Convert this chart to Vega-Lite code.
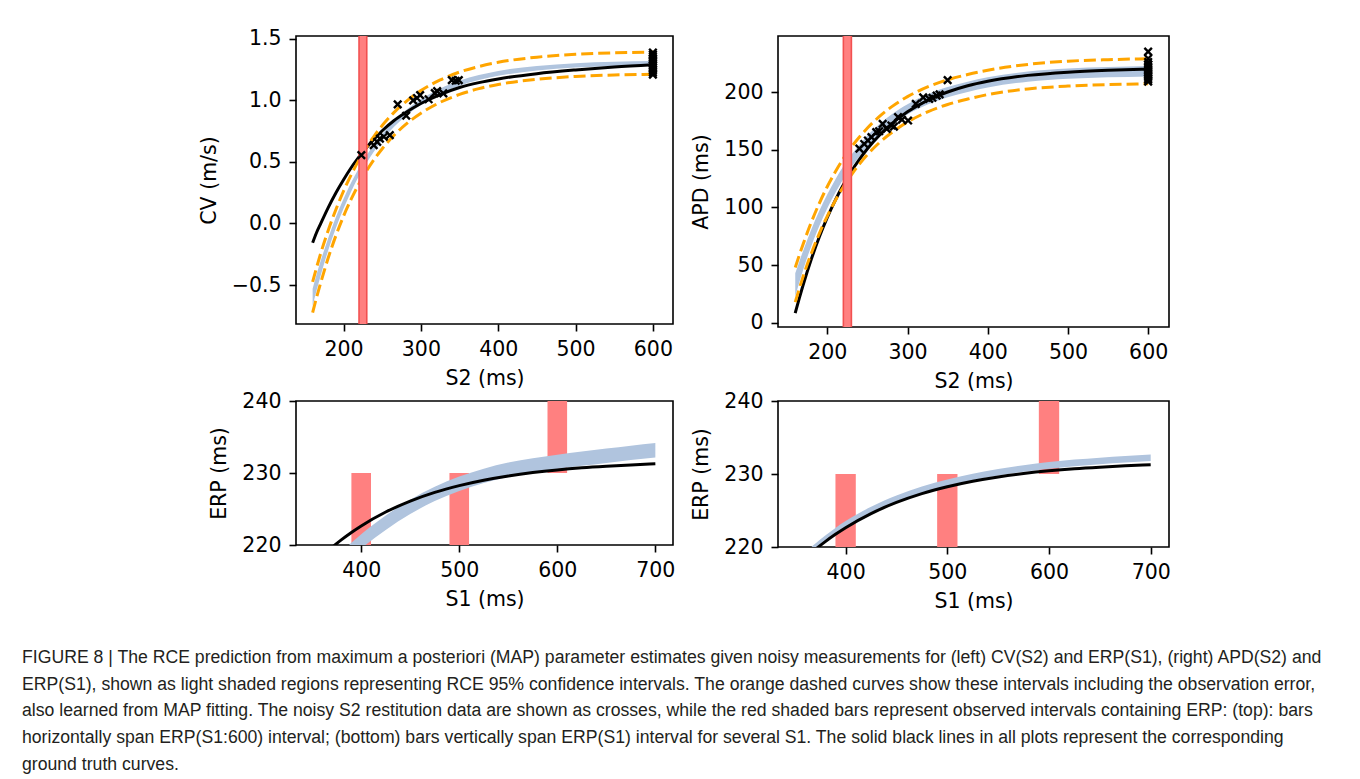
{
  "$schema": "https://vega.github.io/schema/vega-lite/v6.json",
  "padding": {"left": 22, "top": 28, "right": 0, "bottom": 0},
  "autosize": {"type": "pad"},
  "datasets": {
    "cv": [
      {"s":160,"t":-0.157,"lo":-0.67,"hi":-0.53,"olo":-0.725,"ohi":-0.475},
      {"s":165,"t":-0.075,"lo":-0.547,"hi":-0.417,"olo":-0.604,"ohi":-0.36},
      {"s":170,"t":-0.007,"lo":-0.432,"hi":-0.312,"olo":-0.492,"ohi":-0.252},
      {"s":180,"t":0.127,"lo":-0.221,"hi":-0.121,"olo":-0.283,"ohi":-0.059},
      {"s":190,"t":0.248,"lo":-0.039,"hi":0.051,"olo":-0.1,"ohi":0.112},
      {"s":200,"t":0.356,"lo":0.122,"hi":0.202,"olo":0.06,"ohi":0.264},
      {"s":210,"t":0.455,"lo":0.263,"hi":0.335,"olo":0.2,"ohi":0.398},
      {"s":220,"t":0.541,"lo":0.388,"hi":0.452,"olo":0.323,"ohi":0.517},
      {"s":230,"t":0.62,"lo":0.496,"hi":0.556,"olo":0.43,"ohi":0.622},
      {"s":240,"t":0.69,"lo":0.592,"hi":0.648,"olo":0.525,"ohi":0.715},
      {"s":250,"t":0.754,"lo":0.676,"hi":0.728,"olo":0.608,"ohi":0.796},
      {"s":265,"t":0.835,"lo":0.784,"hi":0.832,"olo":0.715,"ohi":0.901},
      {"s":280,"t":0.9,"lo":0.872,"hi":0.918,"olo":0.803,"ohi":0.987},
      {"s":300,"t":0.975,"lo":0.966,"hi":1.01,"olo":0.896,"ohi":1.08},
      {"s":325,"t":1.048,"lo":1.055,"hi":1.097,"olo":0.985,"ohi":1.167},
      {"s":350,"t":1.105,"lo":1.12,"hi":1.16,"olo":1.049,"ohi":1.231},
      {"s":375,"t":1.145,"lo":1.166,"hi":1.206,"olo":1.096,"ohi":1.276},
      {"s":400,"t":1.175,"lo":1.2,"hi":1.24,"olo":1.13,"ohi":1.31},
      {"s":450,"t":1.218,"lo":1.243,"hi":1.281,"olo":1.172,"ohi":1.352},
      {"s":500,"t":1.248,"lo":1.267,"hi":1.303,"olo":1.195,"ohi":1.375},
      {"s":550,"t":1.272,"lo":1.279,"hi":1.315,"olo":1.207,"ohi":1.387},
      {"s":600,"t":1.29,"lo":1.285,"hi":1.321,"olo":1.213,"ohi":1.393}
    ],
    "cvpts": [
      {"s":223,"v":0.555},{"s":239,"v":0.637},{"s":243.5,"v":0.664},{"s":247,"v":0.69},
      {"s":252,"v":0.705},{"s":259.8,"v":0.718},{"s":270,"v":0.968},{"s":281,"v":0.876},
      {"s":290,"v":1.0},{"s":295,"v":1.02},{"s":299,"v":1.043},{"s":310,"v":1.01},
      {"s":318,"v":1.06},{"s":321,"v":1.076},{"s":329,"v":1.057},{"s":340,"v":1.165},
      {"s":345,"v":1.16},{"s":349,"v":1.165},
      {"s":600,"v":1.39},{"s":600,"v":1.375},{"s":600,"v":1.36},{"s":600,"v":1.345},
      {"s":600,"v":1.33},{"s":600,"v":1.315},{"s":600,"v":1.3},{"s":600,"v":1.285},
      {"s":600,"v":1.27},{"s":600,"v":1.255},{"s":600,"v":1.24},{"s":600,"v":1.225},
      {"s":600,"v":1.21}
    ],
    "cvbar": [{"s":220,"s2":230,"v":-2,"v2":3}],
    "apd": [
      {"s":160,"t":8.6,"lo":23,"hi":43,"olo":18,"ohi":48},
      {"s":165,"t":21.3,"lo":35.1,"hi":53.1,"olo":29.6,"ohi":58.6},
      {"s":170,"t":33.3,"lo":46.4,"hi":62.8,"olo":40.6,"ohi":68.6},
      {"s":180,"t":55.1,"lo":66.5,"hi":80.9,"olo":60.2,"ohi":87.2},
      {"s":190,"t":74.4,"lo":83.9,"hi":97.1,"olo":77.4,"ohi":103.6},
      {"s":200,"t":91.4,"lo":99.3,"hi":111.5,"olo":92.6,"ohi":118.2},
      {"s":210,"t":106.4,"lo":112.7,"hi":124.3,"olo":106.1,"ohi":130.9},
      {"s":220,"t":119.7,"lo":124.6,"hi":135.6,"olo":117.9,"ohi":142.3},
      {"s":230,"t":131.4,"lo":135,"hi":145.6,"olo":128.3,"ohi":152.3},
      {"s":240,"t":141.7,"lo":144.2,"hi":154.4,"olo":137.6,"ohi":161},
      {"s":250,"t":150.9,"lo":152.3,"hi":162.3,"olo":145.8,"ohi":168.8},
      {"s":265,"t":162.6,"lo":162.7,"hi":172.3,"olo":156.2,"ohi":178.8},
      {"s":280,"t":172.4,"lo":171.2,"hi":180.6,"olo":164.7,"ohi":187.1},
      {"s":300,"t":182.9,"lo":180.5,"hi":189.5,"olo":174,"ohi":196},
      {"s":325,"t":192.8,"lo":189.1,"hi":198.1,"olo":182.8,"ohi":204.4},
      {"s":350,"t":200,"lo":195.5,"hi":204.3,"olo":189.2,"ohi":210.6},
      {"s":375,"t":205.4,"lo":200.1,"hi":208.9,"olo":193.9,"ohi":215.1},
      {"s":400,"t":209.3,"lo":203.9,"hi":212.7,"olo":197.8,"ohi":218.8},
      {"s":450,"t":214.4,"lo":208.9,"hi":217.7,"olo":202.7,"ohi":223.9},
      {"s":500,"t":217.2,"lo":211.4,"hi":220.4,"olo":205.1,"ohi":226.7},
      {"s":550,"t":218.8,"lo":212.7,"hi":221.7,"olo":206.4,"ohi":228},
      {"s":600,"t":219.8,"lo":213.5,"hi":222.5,"olo":207.2,"ohi":228.8}
    ],
    "apdpts": [
      {"s":240,"v":150.9},{"s":246,"v":155},{"s":250.6,"v":158},{"s":255,"v":161},
      {"s":261,"v":165.2},{"s":264.6,"v":166},{"s":269,"v":172.4},{"s":274,"v":168},
      {"s":279.9,"v":171},{"s":283,"v":170},{"s":288.2,"v":178.2},{"s":293,"v":176},
      {"s":300.7,"v":175.3},{"s":310.3,"v":189.7},{"s":319.5,"v":195.4},{"s":327,"v":194},
      {"s":331,"v":195},{"s":336.3,"v":196.8},{"s":340,"v":198},{"s":350,"v":210.3},
      {"s":600,"v":235},{"s":600,"v":229},{"s":600,"v":226},{"s":600,"v":224},
      {"s":600,"v":222.5},{"s":600,"v":221},{"s":600,"v":219.5},{"s":600,"v":218},
      {"s":600,"v":216.5},{"s":600,"v":215},{"s":600,"v":213.5},{"s":600,"v":212},
      {"s":600,"v":210.5},{"s":600,"v":209}
    ],
    "apdbar": [{"s":220,"s2":230,"v":-50,"v2":300}],
    "erpl": [
      {"s":350,"t":217.1,"lo":212.5,"hi":214.5},
      {"s":360,"t":218.43,"lo":214.1,"hi":216.1},
      {"s":370,"t":219.64,"lo":215.6,"hi":217.6},
      {"s":380,"t":220.74,"lo":217.0,"hi":219.0},
      {"s":390,"t":221.74,"lo":218.3,"hi":220.3},
      {"s":400,"t":222.65,"lo":219.5,"hi":221.5},
      {"s":425,"t":224.58,"lo":222.1,"hi":224.1},
      {"s":450,"t":226.1,"lo":224.3,"hi":226.3},
      {"s":475,"t":227.31,"lo":226.1,"hi":228.1},
      {"s":500,"t":228.25,"lo":227.5,"hi":229.5},
      {"s":525,"t":229.0,"lo":228.6,"hi":230.6},
      {"s":550,"t":229.59,"lo":229.45,"hi":231.45},
      {"s":575,"t":230.06,"lo":230.05,"hi":232.05},
      {"s":600,"t":230.43,"lo":230.55,"hi":232.55},
      {"s":625,"t":230.72,"lo":231.0,"hi":233.0},
      {"s":650,"t":230.94,"lo":231.4,"hi":233.4},
      {"s":675,"t":231.12,"lo":231.8,"hi":233.8},
      {"s":700,"t":231.27,"lo":232.15,"hi":234.15}
    ],
    "erpr": [
      {"s":350,"t":217.1,"lo":216.95,"hi":217.85},
      {"s":360,"t":218.43,"lo":218.3,"hi":219.2},
      {"s":370,"t":219.64,"lo":219.54,"hi":220.44},
      {"s":380,"t":220.74,"lo":220.67,"hi":221.57},
      {"s":390,"t":221.74,"lo":221.71,"hi":222.61},
      {"s":400,"t":222.65,"lo":222.65,"hi":223.55},
      {"s":425,"t":224.58,"lo":224.61,"hi":225.51},
      {"s":450,"t":226.1,"lo":226.15,"hi":227.05},
      {"s":475,"t":227.31,"lo":227.38,"hi":228.28},
      {"s":500,"t":228.25,"lo":228.35,"hi":229.25},
      {"s":525,"t":229.0,"lo":229.15,"hi":230.05},
      {"s":550,"t":229.59,"lo":229.79,"hi":230.69},
      {"s":575,"t":230.06,"lo":230.31,"hi":231.21},
      {"s":600,"t":230.43,"lo":230.73,"hi":231.63},
      {"s":625,"t":230.72,"lo":231.07,"hi":231.97},
      {"s":650,"t":230.94,"lo":231.34,"hi":232.24},
      {"s":675,"t":231.12,"lo":231.57,"hi":232.47},
      {"s":700,"t":231.27,"lo":231.77,"hi":232.67}
    ],
    "erpbars": [
      {"s":390,"s2":410,"v":210,"v2":230},
      {"s":490,"s2":510,"v":210,"v2":230},
      {"s":590,"s2":610,"v":230,"v2":250}
    ]
  },
  "columns": 2,
  "align": "each",
  "bounds": "flush",
  "spacing": {"row": 74, "column": 105},
  "title": {
    "text": [
      "FIGURE 8 | The RCE prediction from maximum a posteriori (MAP) parameter estimates given noisy measurements for (left) CV(S2) and ERP(S1), (right) APD(S2) and",
      "ERP(S1), shown as light shaded regions representing RCE 95% confidence intervals. The orange dashed curves show these intervals including the observation error,",
      "also learned from MAP fitting. The noisy S2 restitution data are shown as crosses, while the red shaded bars represent observed intervals containing ERP: (top): bars",
      "horizontally span ERP(S1:600) interval; (bottom) bars vertically span ERP(S1) interval for several S1. The solid black lines in all plots represent the corresponding",
      "ground truth curves."
    ],
    "orient": "bottom",
    "anchor": "start",
    "frame": "group",
    "offset": 36,
    "dx": -274,
    "font": "Liberation Sans",
    "fontSize": 17.65,
    "fontWeight": "normal",
    "color": "#231f20",
    "lineHeight": 26.8
  },
  "concat": [
    {
      "width": 377,
      "height": 288,
      "data": {"name": "cv"},
      "encoding": {
        "x": {"field": "s", "type": "quantitative", "title": "S2 (ms)",
              "scale": {"domain": [138.5, 626], "nice": false, "zero": false},
              "axis": {"values": [200, 300, 400, 500, 600]}}
      },
      "layer": [
        {"mark": {"type": "area", "color": "#b0c4de", "opacity": 1, "interpolate": "monotone", "clip": true},
         "encoding": {"y": {"field": "lo", "type": "quantitative", "title": "CV (m/s)", "scale": {"domain": [-0.817, 1.524], "nice": false, "zero": false}, "axis": {"values": [-0.5, 0, 0.5, 1, 1.5], "format": ".1f"}},
                      "y2": {"field": "hi"}}},
        {"mark": {"type": "line", "color": "black", "strokeWidth": 3, "interpolate": "monotone", "clip": true},
         "encoding": {"y": {"field": "t", "type": "quantitative", "title": "CV (m/s)", "scale": {"domain": [-0.817, 1.524], "nice": false, "zero": false}}}},
        {"mark": {"type": "line", "color": "#ffa500", "strokeWidth": 3, "strokeDash": [12, 5], "interpolate": "monotone", "clip": true},
         "encoding": {"y": {"field": "ohi", "type": "quantitative", "title": "CV (m/s)", "scale": {"domain": [-0.817, 1.524], "nice": false, "zero": false}}}},
        {"mark": {"type": "line", "color": "#ffa500", "strokeWidth": 3, "strokeDash": [12, 5], "interpolate": "monotone", "clip": true},
         "encoding": {"y": {"field": "olo", "type": "quantitative", "title": "CV (m/s)", "scale": {"domain": [-0.817, 1.524], "nice": false, "zero": false}}}},
        {"data": {"name": "cvbar"},
         "mark": {"type": "rect", "fill": "#ff8080", "stroke": "#f25050", "strokeWidth": 1.6, "clip": true},
         "encoding": {"x2": {"field": "s2"},
                      "y": {"field": "v", "type": "quantitative", "title": "CV (m/s)", "scale": {"domain": [-0.817, 1.524], "nice": false, "zero": false}},
                      "y2": {"field": "v2"}}},
        {"data": {"name": "cvpts"},
         "mark": {"type": "point", "shape": "M-1,-1L1,1M-1,1L1,-1", "filled": false, "stroke": "black", "strokeWidth": 2.4, "size": 56, "opacity": 1},
         "encoding": {"y": {"field": "v", "type": "quantitative", "title": "CV (m/s)", "scale": {"domain": [-0.817, 1.524], "nice": false, "zero": false}}}}
      ]
    },
    {
      "width": 391,
      "height": 291,
      "data": {"name": "apd"},
      "encoding": {
        "x": {"field": "s", "type": "quantitative", "title": "S2 (ms)",
              "scale": {"domain": [138.5, 626], "nice": false, "zero": false},
              "axis": {"values": [200, 300, 400, 500, 600]}}
      },
      "layer": [
        {"mark": {"type": "area", "color": "#b0c4de", "opacity": 1, "interpolate": "monotone", "clip": true},
         "encoding": {"y": {"field": "lo", "type": "quantitative", "title": "APD (ms)", "scale": {"domain": [-3.5, 248.5], "nice": false, "zero": false}, "axis": {"values": [0, 50, 100, 150, 200]}},
                      "y2": {"field": "hi"}}},
        {"mark": {"type": "line", "color": "black", "strokeWidth": 3, "interpolate": "monotone", "clip": true},
         "encoding": {"y": {"field": "t", "type": "quantitative", "title": "APD (ms)", "scale": {"domain": [-3.5, 248.5], "nice": false, "zero": false}}}},
        {"mark": {"type": "line", "color": "#ffa500", "strokeWidth": 3, "strokeDash": [12, 5], "interpolate": "monotone", "clip": true},
         "encoding": {"y": {"field": "ohi", "type": "quantitative", "title": "APD (ms)", "scale": {"domain": [-3.5, 248.5], "nice": false, "zero": false}}}},
        {"mark": {"type": "line", "color": "#ffa500", "strokeWidth": 3, "strokeDash": [12, 5], "interpolate": "monotone", "clip": true},
         "encoding": {"y": {"field": "olo", "type": "quantitative", "title": "APD (ms)", "scale": {"domain": [-3.5, 248.5], "nice": false, "zero": false}}}},
        {"data": {"name": "apdbar"},
         "mark": {"type": "rect", "fill": "#ff8080", "stroke": "#f25050", "strokeWidth": 1.6, "clip": true},
         "encoding": {"x2": {"field": "s2"},
                      "y": {"field": "v", "type": "quantitative", "title": "APD (ms)", "scale": {"domain": [-3.5, 248.5], "nice": false, "zero": false}},
                      "y2": {"field": "v2"}}},
        {"data": {"name": "apdpts"},
         "mark": {"type": "point", "shape": "M-1,-1L1,1M-1,1L1,-1", "filled": false, "stroke": "black", "strokeWidth": 2.4, "size": 56, "opacity": 1},
         "encoding": {"y": {"field": "v", "type": "quantitative", "title": "APD (ms)", "scale": {"domain": [-3.5, 248.5], "nice": false, "zero": false}}}}
      ]
    },
    {
      "width": 377,
      "height": 144,
      "data": {"name": "erpl"},
      "encoding": {
        "x": {"field": "s", "type": "quantitative", "title": "S1 (ms)",
              "scale": {"domain": [333.5, 718], "nice": false, "zero": false},
              "axis": {"values": [400, 500, 600, 700]}}
      },
      "layer": [
        {"data": {"name": "erpbars"},
         "mark": {"type": "rect", "fill": "#ff8080", "clip": true},
         "encoding": {"x2": {"field": "s2"},
                      "y": {"field": "v", "type": "quantitative", "title": "ERP (ms)", "scale": {"domain": [220, 240], "nice": false, "zero": false}, "axis": {"values": [220, 230, 240]}},
                      "y2": {"field": "v2"}}},
        {"mark": {"type": "area", "color": "#b0c4de", "opacity": 1, "interpolate": "monotone", "clip": true},
         "encoding": {"y": {"field": "lo", "type": "quantitative", "title": "ERP (ms)", "scale": {"domain": [220, 240], "nice": false, "zero": false}},
                      "y2": {"field": "hi"}}},
        {"mark": {"type": "line", "color": "black", "strokeWidth": 3, "interpolate": "monotone", "clip": true},
         "encoding": {"y": {"field": "t", "type": "quantitative", "title": "ERP (ms)", "scale": {"domain": [220, 240], "nice": false, "zero": false}}}}
      ]
    },
    {
      "width": 391,
      "height": 146,
      "data": {"name": "erpr"},
      "encoding": {
        "x": {"field": "s", "type": "quantitative", "title": "S1 (ms)",
              "scale": {"domain": [333.5, 718], "nice": false, "zero": false},
              "axis": {"values": [400, 500, 600, 700]}}
      },
      "layer": [
        {"data": {"name": "erpbars"},
         "mark": {"type": "rect", "fill": "#ff8080", "clip": true},
         "encoding": {"x2": {"field": "s2"},
                      "y": {"field": "v", "type": "quantitative", "title": "ERP (ms)", "scale": {"domain": [220, 240], "nice": false, "zero": false}, "axis": {"values": [220, 230, 240]}},
                      "y2": {"field": "v2"}}},
        {"mark": {"type": "area", "color": "#b0c4de", "opacity": 1, "interpolate": "monotone", "clip": true},
         "encoding": {"y": {"field": "lo", "type": "quantitative", "title": "ERP (ms)", "scale": {"domain": [220, 240], "nice": false, "zero": false}},
                      "y2": {"field": "hi"}}},
        {"mark": {"type": "line", "color": "black", "strokeWidth": 3, "interpolate": "monotone", "clip": true},
         "encoding": {"y": {"field": "t", "type": "quantitative", "title": "ERP (ms)", "scale": {"domain": [220, 240], "nice": false, "zero": false}}}}
      ]
    }
  ],
  "config": {
    "background": "white",
    "view": {"stroke": "black", "strokeWidth": 1.6},
    "axis": {
      "domain": false, "grid": false,
      "labelFont": "DejaVu Sans", "labelFontSize": 20.5, "labelColor": "black",
      "titleFont": "DejaVu Sans", "titleFontSize": 20.5, "titleFontWeight": "normal", "titleColor": "black",
      "tickColor": "black", "tickWidth": 1.6, "tickSize": 7, "labelPadding": 8,
      "labelFlush": false, "labelOverlap": false
    },
    "axisX": {"titlePadding": 9},
    "axisY": {"titlePadding": 12}
  }
}
